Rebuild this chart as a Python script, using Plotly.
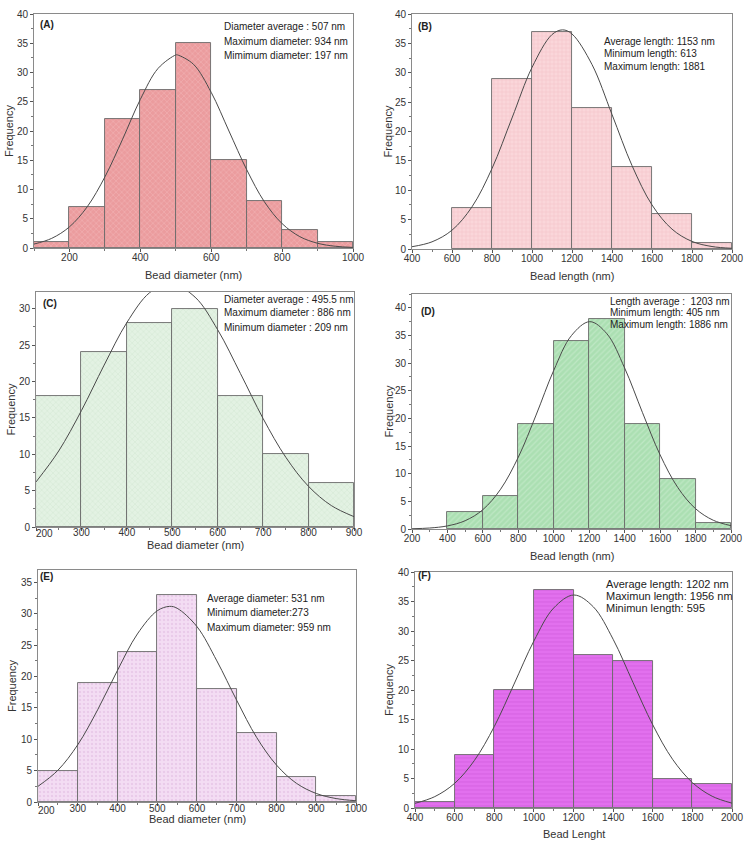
import plotly.graph_objects as go

W, H = 750, 846

# ---------------- data ----------------
# Panel A
a_edges = [100, 200, 300, 400, 500, 600, 700, 800, 900, 1000]
a_counts = [1, 7, 22, 27, 35, 15, 8, 3, 1]
a_fit_x = [100, 150, 200, 250, 300, 350, 400, 450, 500, 505, 550, 600, 650, 700, 750, 800, 850, 900, 950, 1000]
a_fit_y = [0.67, 1.65, 3.61, 7.03, 12.15, 18.6, 25.4, 30.7, 33.0, 33.0, 31.4, 26.6, 20.0, 13.4, 7.9, 4.17, 1.94, 0.81, 0.30, 0.10]
a_text = ["Diameter average : 507 nm", "Maximum diameter: 934 nm", "Mimimum diameter: 197 nm"]

# Panel B
b_edges = [600, 800, 1000, 1200, 1400, 1600, 1800, 2000]
b_counts = [7, 29, 37, 24, 14, 6, 1]
b_fit_x = [400, 500, 600, 700, 800, 900, 1000, 1100, 1153, 1200, 1300, 1400, 1500, 1600, 1700, 1800, 1900, 2000]
b_fit_y = [0.39, 1.22, 3.2, 7.18, 13.7, 22.3, 30.9, 36.5, 37.3, 36.6, 31.4, 22.9, 14.2, 7.5, 3.38, 1.29, 0.42, 0.12]
b_text = ["Average length: 1153 nm", "Minimum length: 613", "Maximum length: 1881"]

# Panel C
c_edges = [200, 300, 400, 500, 600, 700, 800, 900]
c_counts = [18, 24, 28, 30, 18, 10, 6]
c_fit_x = [200, 250, 300, 350, 400, 450, 495.5, 550, 600, 650, 700, 750, 800, 850, 900]
c_fit_y = [6.19, 10.45, 16.0, 22.25, 28.1, 32.2, 33.5, 31.6, 27.1, 21.1, 14.9, 9.57, 5.58, 2.95, 1.42]
c_text = ["Diameter average : 495.5 nm", "Maximum diameter : 886 nm", "Minimum diameter : 209 nm"]

# Panel D
d_edges = [400, 600, 800, 1000, 1200, 1400, 1600, 1800, 2000]
d_counts = [3, 6, 19, 34, 38, 19, 9, 1]
d_fit_x = [200, 300, 400, 500, 600, 700, 800, 900, 1000, 1100, 1203, 1300, 1400, 1500, 1600, 1700, 1800, 1900, 2000]
d_fit_y = [0.05, 0.18, 0.56, 1.50, 3.50, 7.20, 13.0, 20.6, 28.7, 35.0, 37.5, 35.3, 29.1, 21.1, 13.4, 7.49, 3.67, 1.58, 0.60]
d_text = ["Length average :  1203 nm", "Minimum length: 405 nm", "Maximum length: 1886 nm"]

# Panel E
e_edges = [200, 300, 400, 500, 600, 700, 800, 900, 1000]
e_counts = [5, 19, 24, 33, 18, 11, 4, 1]
e_fit_x = [200, 250, 300, 350, 400, 450, 500, 531, 550, 600, 650, 700, 750, 800, 850, 900, 950, 1000]
e_fit_y = [2.50, 5.06, 9.13, 14.7, 21.0, 26.8, 30.5, 31.2, 30.9, 27.96, 22.5, 16.2, 10.3, 5.89, 2.99, 1.36, 0.55, 0.20]
e_text = ["Average diameter: 531 nm", "Minimum diameter:273", "Maximum diameter: 959 nm"]

# Panel F
f_edges = [400, 600, 800, 1000, 1200, 1400, 1600, 1800, 2000]
f_counts = [1, 9, 20, 37, 26, 25, 5, 4]
f_fit_x = [400, 500, 600, 700, 800, 900, 1000, 1100, 1202, 1300, 1400, 1500, 1600, 1700, 1800, 1900, 2000]
f_fit_y = [0.79, 1.93, 4.18, 8.07, 13.8, 21.0, 28.3, 33.9, 36.1, 34.1, 28.6, 21.3, 14.1, 8.26, 4.31, 1.99, 0.82]
f_text = ["Average length: 1202 nm", "Maximun length: 1956 nm", "Minimun length: 595"]

# ---------------- layout helpers ----------------
def px(x, y):
    return x / W, 1 - y / H

FONT = "Liberation Sans, Arial, sans-serif"

panels = [
    dict(lbl="(A)", edges=a_edges, counts=a_counts, fx=a_fit_x, fy=a_fit_y, text=a_text,
         box=(34, 14, 353, 248), xr=[100, 1000], xt=[200, 400, 600, 800, 1000], xminor=100,
         yr=[0, 40], xtitle="Bead diameter (nm)", xty=275, ytx=9, lso=-3, first=None,
         color="#EB9C9E", pfg="#F5C4C6", shape="x",
         txy=(223, 27), tsp=14.5, tsize=10, lxy=(39, 25)),
    dict(lbl="(B)", edges=b_edges, counts=b_counts, fx=b_fit_x, fy=b_fit_y, text=b_text,
         box=(412, 14, 732, 249), xr=[400, 2000], xt=list(range(400, 2001, 200)), xminor=100,
         yr=[0, 40], xtitle="Bead length (nm)", xty=276, ytx=388, lso=-3, first=None,
         color="#FAD6DA", pfg="#EFB9BF", shape="+",
         txy=(603, 41), tsp=12.5, tsize=10, lxy=(417, 26)),
    dict(lbl="(C)", edges=c_edges, counts=c_counts, fx=c_fit_x, fy=c_fit_y, text=c_text,
         box=(36, 292, 354, 527), xr=[200, 900], xt=list(range(200, 901, 100)), xminor=50,
         yr=[0, 32.3], xtitle="Bead diameter (nm)", xty=545, ytx=10, lso=-7, first=(44, 533),
         color="#E3F2E3", pfg="#C8E2C8", shape="x",
         txy=(223, 299), tsp=14, tsize=10, lxy=(42, 303)),
    dict(lbl="(D)", edges=d_edges, counts=d_counts, fx=d_fit_x, fy=d_fit_y, text=d_text,
         box=(412, 294, 731, 529), xr=[200, 2000], xt=list(range(200, 2001, 200)), xminor=100,
         yr=[0, 42.5], xtitle="Bead length (nm)", xty=556, ytx=388, lso=-3, first=None,
         color="#ABDFB2", pfg="#D2F0D5", shape="/",
         txy=(609, 301), tsp=12, tsize=10, lxy=(420, 311)),
    dict(lbl="(E)", edges=e_edges, counts=e_counts, fx=e_fit_x, fy=e_fit_y, text=e_text,
         box=(38, 570, 356, 802), xr=[200, 1000], xt=list(range(200, 1001, 100)), xminor=50,
         yr=[0, 37], xtitle="Bead diameter (nm)", xty=819, ytx=12, lso=-6, first=(46, 810),
         color="#F3DDF3", pfg="#DDB8DD", shape=".",
         txy=(206, 598), tsp=14.5, tsize=10, lxy=(39, 576)),
    dict(lbl="(F)", edges=f_edges, counts=f_counts, fx=f_fit_x, fy=f_fit_y, text=f_text,
         box=(415, 572, 732, 808), xr=[400, 2000], xt=list(range(400, 2001, 200)), xminor=100,
         yr=[0, 40], xtitle="Bead Lenght", xty=834, ytx=389, lso=-3, first=None,
         color="#E270EE", pfg="#CC55D8", shape="-",
         txy=(605, 584), tsp=12, tsize=11, lxy=(417, 575)),
]

fig = go.Figure()
annotations = []
layout = {}

for i, p in enumerate(panels):
    n = i + 1
    xa = "x" if n == 1 else f"x{n}"
    ya = "y" if n == 1 else f"y{n}"
    xkey = "xaxis" if n == 1 else f"xaxis{n}"
    ykey = "yaxis" if n == 1 else f"yaxis{n}"
    edges = p["edges"]
    centers = [(edges[k] + edges[k + 1]) / 2 for k in range(len(edges) - 1)]
    widths = [edges[k + 1] - edges[k] for k in range(len(edges) - 1)]
    fig.add_trace(go.Bar(
        x=centers, y=p["counts"], width=widths, xaxis=xa, yaxis=ya,
        marker=dict(color=p["color"], line=dict(color="#6a6a6a", width=0.9),
                    pattern=dict(shape=p["shape"], fgcolor=p["pfg"], size=4, solidity=0.3)),
        showlegend=False, hoverinfo="x+y"))
    fig.add_trace(go.Scatter(
        x=p["fx"], y=p["fy"], mode="lines", xaxis=xa, yaxis=ya,
        line=dict(color="#4a4a4a", width=1, shape="spline", smoothing=1.0),
        showlegend=False, cliponaxis=True))

    x0, y0, x1, y1 = p["box"]
    dx0, dy1 = px(x0, y0)
    dx1, dy0 = px(x1, y1)
    ticktext = [str(v) for v in p["xt"]]
    if p["first"] is not None:
        # first label sits just right of the corner in the original; drawn as text there
        fx_, fy_ = px(*p["first"])
        annotations.append(dict(x=fx_, y=fy_, xref="paper", yref="paper", text=ticktext[0],
                                showarrow=False, xanchor="center", yanchor="middle", borderpad=0,
                                font=dict(family=FONT, size=10, color="#333")))
        ticktext[0] = ""
    axis_common = dict(showline=True, linecolor="#8a8a8a", linewidth=1, mirror=True,
                       ticks="outside", ticklen=3, tickcolor="#555", showgrid=False,
                       zeroline=False, automargin=False,
                       tickfont=dict(family=FONT, size=10, color="#333"))
    layout[xkey] = dict(axis_common, domain=[dx0, dx1], range=p["xr"], anchor=ya,
                        tickmode="array", tickvals=p["xt"], ticktext=ticktext,
                        ticklabelstandoff=p["lso"],
                        minor=dict(ticks="outside", ticklen=2, dtick=p["xminor"], tick0=0, tickcolor="#777"))
    layout[ykey] = dict(axis_common, domain=[dy0, dy1], range=p["yr"], anchor=xa,
                        tickmode="linear", tick0=0, dtick=5,
                        minor=dict(ticks="outside", ticklen=2, dtick=2.5, tickcolor="#777"))

    # axis titles
    cx, cy = px((x0 + x1) / 2, p["xty"])
    annotations.append(dict(x=cx, y=cy, xref="paper", yref="paper", text=p["xtitle"], showarrow=False,
                            xanchor="center", yanchor="middle", borderpad=0,
                            font=dict(family=FONT, size=11, color="#333")))
    yx, yy = px(p["ytx"], (y0 + y1) / 2)
    annotations.append(dict(x=yx, y=yy, xref="paper", yref="paper", text="Frequency", showarrow=False,
                            xanchor="center", yanchor="middle", textangle=-90, borderpad=0,
                            font=dict(family=FONT, size=11, color="#333")))

    tx, ty = p["txy"]
    for k, t in enumerate(p["text"]):
        ax, ay = px(tx, ty + k * p["tsp"])
        annotations.append(dict(x=ax, y=ay, xref="paper", yref="paper", text=t, showarrow=False,
                                xanchor="left", yanchor="middle", borderpad=0,
                                font=dict(family=FONT, size=p["tsize"], color="#222")))
    lx, ly = px(*p["lxy"])
    annotations.append(dict(x=lx, y=ly, xref="paper", yref="paper", text=f"<b>{p['lbl']}</b>",
                            showarrow=False, xanchor="left", yanchor="middle", borderpad=0,
                            font=dict(family=FONT, size=10, color="#222")))

fig.update_layout(width=W, height=H, margin=dict(l=0, r=0, t=0, b=0, autoexpand=False),
                  paper_bgcolor="white", plot_bgcolor="white", bargap=0,
                  annotations=annotations, **layout)

fig.write_html("out.html", config={"displayModeBar": False},
               post_script="document.body.style.margin='0';document.body.style.overflow='hidden';")
